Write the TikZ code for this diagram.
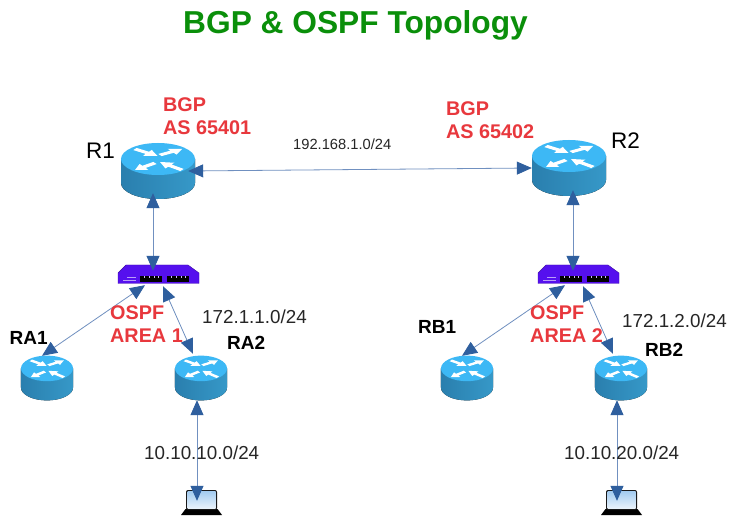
\documentclass[tikz,border=0pt]{standalone}
\usepackage{fontspec}
\setmainfont{Liberation Sans}
\usetikzlibrary{arrows.meta}
\definecolor{titlegreen}{HTML}{0A8F0A}
\definecolor{labred}{HTML}{E8383D}
\definecolor{linkc}{HTML}{7090C0}
\definecolor{tipc}{HTML}{2F5F9E}
\definecolor{rtop}{HTML}{3DB8F5}
\definecolor{rsideA}{HTML}{2A7FAE}
\definecolor{rsideB}{HTML}{3698C8}
\definecolor{swc}{HTML}{5510EE}
\definecolor{scrA}{HTML}{A4CCF0}
\definecolor{scrB}{HTML}{E8F2FB}
\tikzset{
  bigrouter/.style={minimum width=74pt,minimum height=44pt,inner sep=0pt},
  smallrouter/.style={minimum width=52pt,minimum height=44pt,inner sep=0pt},
  switchbox/.style={minimum width=81pt,minimum height=18pt,inner sep=0pt},
  laptopbox/.style={minimum width=40pt,minimum height=26pt,inner sep=0pt},
  link/.style={draw=linkc,line width=0.8pt,
    {Triangle[length=15pt,width=13pt,color=tipc]}-{Triangle[length=15pt,width=13pt,color=tipc]}},
  redlab/.style={text=labred,font=\fontsize{19.8}{22.5}\selectfont\bfseries,align=left,anchor=west,inner sep=0pt},
  netlab/.style={text=black!85,font=\fontsize{18.8}{22}\selectfont,anchor=west,inner sep=0pt},
  smallnet/.style={text=black!85,font=\fontsize{14.7}{18}\selectfont,anchor=west,inner sep=0pt},
  hostlab/.style={text=black,font=\fontsize{19}{22}\selectfont\bfseries,anchor=west,inner sep=0pt},
  rtrlab/.style={text=black,font=\fontsize{22.5}{26}\selectfont,anchor=west,inner sep=0pt},
}
% white arrow on router face: tail, direction, half-head vector
\newcommand{\rarw}[6]{%
  \begin{scope}[shift={(#1,#2)},x={(#3pt,-#4pt)},y={(#5pt,-#6pt)}]
    \fill[white] (0,-.3) -- (.55,-.3) -- (.55,-.8) -- (1,0) -- (.55,.8) -- (.55,.3) -- (0,.3) -- cycle;
  \end{scope}}
% router artwork: #1 node name, #2 x scale, #3 y scale
\newcommand{\routerart}[3]{%
  \begin{scope}[shift={(#1.center)},xscale=#2,yscale=#3]
    \fill[left color=rsideA,right color=rsideB] (-37,-12) -- (-37,12) arc[start angle=180,end angle=360,x radius=37,y radius=-16] -- (37,-12) -- cycle;
    \fill[rtop] (0,-12) ellipse[x radius=37,y radius=16];
    \begin{scope}[shift={(0,-12)}]
      \rarw{-23}{-10}{22.5}{7}{-5.5}{3.6}
      \rarw{24}{11}{-22}{-8}{-5.5}{3.6}
      \rarw{2}{-4}{22}{-6}{5.5}{3.6}
      \rarw{-3}{4}{-20}{7}{5.5}{3.6}
    \end{scope}
  \end{scope}}
\newcommand{\switchart}[1]{%
  \begin{scope}[shift={(#1.center)}]
    \fill[swc,draw=swc!70!black,line width=.4pt] (-40,9.5) -- (-40,-1) -- (-32,-9) -- (30,-9) -- (41,-1) -- (41,9.5) -- cycle;
    \fill[black] (-18,2) rectangle (4,8.5);
    \fill[black] (9,2) rectangle (31,8.5);
    \foreach \px in {-14,-9,-4,0,13,18,23,27}{\fill[white!70!swc] (\px-.4,2) rectangle (\px+.4,4);}
    \fill[white!60!swc] (-31,3) rectangle (-22,4);
    \fill[white!60!swc] (-35,6) rectangle (-22,6.6);
  \end{scope}}
\newcommand{\laptopart}[1]{%
  \begin{scope}[shift={(#1.center)}]
    \fill[black] (-16,6) -- (16,6) -- (20.5,12) -- (-20.5,12) -- cycle;
    \fill[black!90,rounded corners=2pt] (-15.5,-13) rectangle (15.5,7);
    \fill[top color=scrA,bottom color=scrB] (-14,-11.5) rectangle (14,5);
  \end{scope}}
\begin{document}
\begin{tikzpicture}[x=1pt,y=-1pt]
\useasboundingbox (0,0) rectangle (753,521);
\fill[white] (0,0) rectangle (753,521);
\node[text=titlegreen,font=\fontsize{31.7}{36}\selectfont\bfseries,inner sep=0pt] (title) at (355.5,25) {BGP \& OSPF Topology};

\node[bigrouter] (R1) at (158,171) {};
\node[bigrouter] (R2) at (569,168) {};
\node[smallrouter] (RA1) at (47,378) {};
\node[smallrouter] (RA2) at (201,378) {};
\node[smallrouter] (RB1) at (467,378) {};
\node[smallrouter] (RB2) at (621,378) {};
\node[switchbox] (SW1) at (158,274) {};
\node[switchbox] (SW2) at (578,274) {};
\node[laptopbox] (L1) at (201.5,503) {};
\node[laptopbox] (L2) at (621.5,503) {};

\routerart{R1}{1}{1}\routerart{R2}{1}{1}
\routerart{RA1}{0.703}{0.8}\routerart{RA2}{0.703}{0.8}\routerart{RB1}{0.703}{0.8}\routerart{RB2}{0.703}{0.8}
\switchart{SW1}\switchart{SW2}
\laptopart{L1}\laptopart{L2}

\draw[link] ([xshift=-7pt]R1.east) -- (R2.west);
\draw[link] ([xshift=-5pt]R1.south) -- ([shift={(-5pt,-6pt)}]SW1.north);
\draw[link] ([xshift=4pt]R2.south) -- ([shift={(-5pt,-6pt)}]SW2.north);
\draw[link] ([shift={(-13pt,-2pt)}]SW1.south) -- ([xshift=-5pt]RA1.north);
\draw[link] ([shift={(5pt,-3pt)}]SW1.south) -- ([shift={(-8pt,2pt)}]RA2.north);
\draw[link] ([shift={(-13pt,-2pt)}]SW2.south) -- ([xshift=-5pt]RB1.north);
\draw[link] ([shift={(5pt,-3pt)}]SW2.south) -- ([shift={(-8pt,2pt)}]RB2.north);
\draw[link] ([xshift=-4pt]RA2.south) -- ([shift={(-4.5pt,-11pt)}]L1.north);
\draw[link] ([xshift=-4pt]RB2.south) -- ([shift={(-4.5pt,-11pt)}]L2.north);

\node[rtrlab] (lR1) at (86,151) {R1};
\node[rtrlab] (lR2) at (611,140.5) {R2};
\node[redlab] (bgp1) at (163,116) {BGP\\AS 65401};
\node[redlab] (bgp2) at (446,120) {BGP\\AS 65402};
\node[smallnet] (n0) at (293,144) {192.168.1.0/24};
\node[redlab] (os1) at (110,324) {OSPF\\AREA 1};
\node[redlab] (os2) at (530,324) {OSPF\\AREA 2};
\node[netlab] (n1) at (202,317) {172.1.1.0/24};
\node[netlab] (n2) at (622,321) {172.1.2.0/24};
\node[hostlab] (lRA1) at (9.5,338) {RA1};
\node[hostlab] (lRA2) at (227,343) {RA2};
\node[hostlab] (lRB1) at (418,327) {RB1};
\node[hostlab] (lRB2) at (645,349.5) {RB2};
\node[netlab] (n3) at (144,453) {10.10.10.0/24};
\node[netlab] (n4) at (564,453) {10.10.20.0/24};
\end{tikzpicture}
\end{document}
